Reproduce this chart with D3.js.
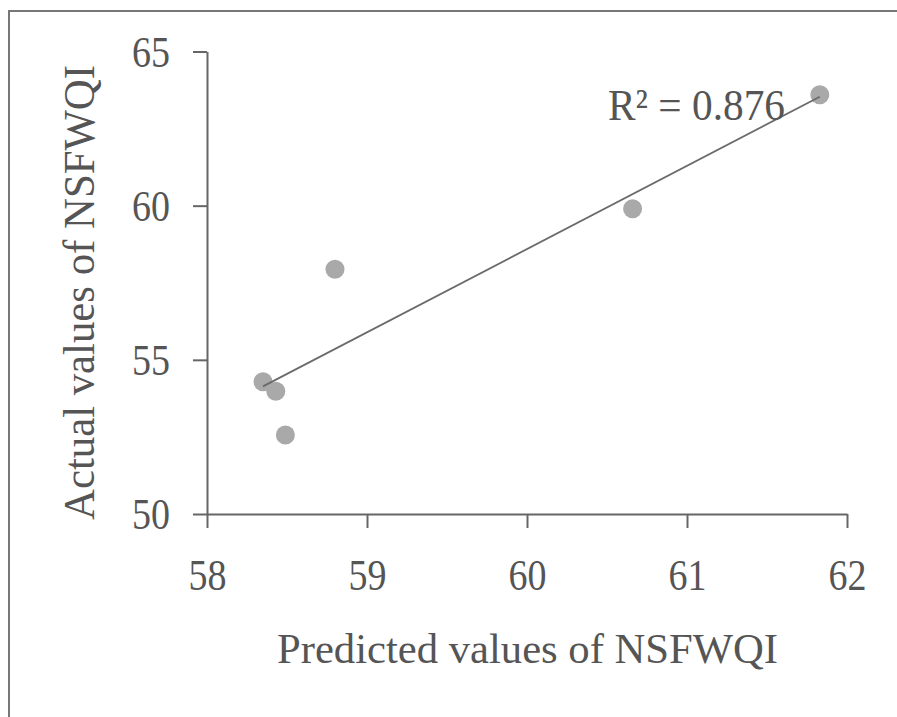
<!DOCTYPE html>
<html>
<head>
<meta charset="utf-8">
<script src="https://cdn.jsdelivr.net/npm/d3@7"></script>
<style>
  body { margin: 0; background: #fff; }
  text { font-family: "Liberation Serif", "Times New Roman", serif; fill: #555; }
</style>
</head>
<body>
<div id="chart"></div>
<script>
// predicted vs actual NSFWQI
const predicted = [58.35, 58.43, 58.49, 58.80, 60.66, 61.83];
const actual = [54.29, 53.98, 52.56, 57.94, 59.90, 63.60];
const xTicks = [58, 59, 60, 61, 62];
const yTicks = [50, 55, 60, 65];
const r2Label = "R\u00b2 = 0.876";

function buildScatter() {
  const width = 897;
  const height = 717;
  const plot = { left: 207, right: 847, top: 51.5, bottom: 514 };

  const svg = d3.select("#chart")
    .append("svg")
    .attr("width", width)
    .attr("height", height);

  // outer frame (cut off at right and bottom)
  svg.append("rect")
    .attr("x", 9).attr("y", 11)
    .attr("width", 950).attr("height", 800)
    .attr("fill", "none")
    .attr("stroke", "#777")
    .attr("stroke-width", 2);

  const xScale = d3.scaleLinear().domain([58, 62]).range([plot.left, plot.right]);
  const yScale = d3.scaleLinear().domain([50, 65]).range([plot.bottom, plot.top]);

  const xAxis = svg.append("g")
    .attr("transform", `translate(0, ${plot.bottom})`)
    .call(d3.axisBottom(xScale).tickValues(xTicks).tickFormat(d3.format("d"))
      .tickSize(14).tickSizeOuter(0).tickPadding(31));
  const yAxis = svg.append("g")
    .attr("transform", `translate(${plot.left}, 0)`)
    .call(d3.axisLeft(yScale).tickValues(yTicks).tickFormat(d3.format("d"))
      .tickSize(14).tickSizeOuter(0).tickPadding(23));

  [xAxis, yAxis].forEach((g) => {
    g.selectAll("path, line").attr("stroke", "#666").attr("stroke-width", 2);
    g.selectAll("text")
      .style("font-size", "44px")
      .attr("fill", "#555")
      .attr("textLength", 38)
      .attr("lengthAdjust", "spacingAndGlyphs");
  });
  xAxis.selectAll("text").attr("dy", "0.71em");
  yAxis.selectAll("text").attr("dy", "0.34em");

  // dots
  const pts = predicted.map((p, i) => ({ x: p, y: actual[i] }));
  svg.append("g").selectAll("circle")
    .data(pts)
    .enter()
    .append("circle")
    .attr("cx", (d) => xScale(d.x))
    .attr("cy", (d) => yScale(d.y))
    .attr("r", 9.5)
    .attr("fill", "#a9a9a9");

  // linear trendline
  const mx = d3.mean(predicted);
  const my = d3.mean(actual);
  const sxy = d3.sum(pts, (d) => (d.x - mx) * (d.y - my));
  const sxx = d3.sum(pts, (d) => (d.x - mx) * (d.x - mx));
  const slope = sxy / sxx;
  const icpt = my - slope * mx;
  const [x0, x1] = d3.extent(predicted);
  svg.append("line")
    .attr("x1", xScale(x0)).attr("y1", yScale(icpt + slope * x0))
    .attr("x2", xScale(x1)).attr("y2", yScale(icpt + slope * x1))
    .attr("stroke", "#6a6a6a")
    .attr("stroke-width", 1.8);

  svg.append("text")
    .attr("x", 608).attr("y", 120)
    .style("font-size", "44px")
    .attr("textLength", 177)
    .attr("lengthAdjust", "spacingAndGlyphs")
    .text(r2Label);

  // axis titles
  svg.append("text")
    .attr("x", 277).attr("y", 663)
    .style("font-size", "42px")
    .attr("textLength", 501)
    .attr("lengthAdjust", "spacingAndGlyphs")
    .text("Predicted values of NSFWQI");

  svg.append("text")
    .attr("transform", "translate(94, 520) rotate(-90)")
    .style("font-size", "44px")
    .attr("textLength", 455)
    .attr("lengthAdjust", "spacingAndGlyphs")
    .text("Actual values of NSFWQI");
}

window.onload = buildScatter;
</script>
</body>
</html>
